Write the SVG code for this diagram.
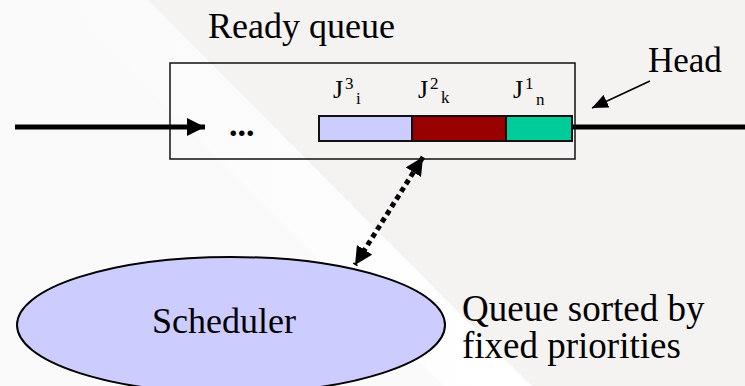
<svg xmlns="http://www.w3.org/2000/svg" width="745" height="386" viewBox="0 0 745 386">
  <style>
    .t { font-family: "Liberation Serif", "Times New Roman", serif; fill: #000; }
    .box { fill: none; stroke: #111; stroke-width: 1.5; }
    .bar { stroke: #111; stroke-width: 2; }
    .thick { stroke: #000; stroke-width: 5; fill: none; }
    .thin { stroke: #000; stroke-width: 1.6; fill: none; }
    .dots { stroke: #000; stroke-width: 5; fill: none; stroke-dasharray: 5 4; }
  </style>
  <defs>
    <marker id="bigHead" markerUnits="userSpaceOnUse" viewBox="0 0 18 18" refX="18" refY="9" markerWidth="18" markerHeight="18" orient="auto-start-reverse">
      <path d="M0,0 L18,9 L0,18 Z" fill="#000"/>
    </marker>
    <marker id="smallHead" markerUnits="userSpaceOnUse" viewBox="0 0 16 14" refX="16" refY="7" markerWidth="16" markerHeight="14" orient="auto">
      <path d="M0,0 L16,7 L0,14 Z" fill="#000"/>
    </marker>
    <linearGradient id="band" x1="0" y1="0" x2="1" y2="0">
      <stop offset="0" stop-color="#fafafa"/>
      <stop offset="1" stop-color="#ffffff"/>
    </linearGradient>
  </defs>

  <g id="background">
    <rect x="0" y="0" width="745" height="386" fill="#fafafa"/>
    <polygon points="60,0 148,0 532,386 444,386" fill="url(#band)"/>
    <polygon points="148,0 745,0 745,386 532,386" fill="#f5f2f2"/>
  </g>

  <g id="connectors">
    <line class="thick" x1="15" y1="127" x2="205" y2="127" marker-end="url(#bigHead)"/>
    <line class="thick" x1="572" y1="127" x2="745" y2="127"/>
    <line class="thin" x1="650" y1="81" x2="592" y2="108" marker-end="url(#smallHead)"/>
    <line class="dots" x1="423" y1="157" x2="355" y2="265" marker-start="url(#bigHead)" marker-end="url(#bigHead)"/>
  </g>

  <g id="ready-queue">
    <rect class="box" x="170" y="63" width="405" height="96"/>
    <rect class="bar" x="319" y="116" width="93" height="25" fill="#ccccff"/>
    <rect class="bar" x="412" y="116" width="94" height="25" fill="#990000"/>
    <rect class="bar" x="506" y="116" width="66" height="25" fill="#00cc99"/>
    <text class="t" x="229" y="136" font-size="34" font-weight="bold">...</text>
    <text class="t" font-size="26"><tspan x="333" y="98">J</tspan><tspan x="345" y="89" font-size="17">3</tspan><tspan x="356" y="104" font-size="17">i</tspan></text>
    <text class="t" font-size="26"><tspan x="418" y="98">J</tspan><tspan x="430" y="89" font-size="17">2</tspan><tspan x="441" y="103" font-size="17">k</tspan></text>
    <text class="t" font-size="26"><tspan x="513" y="98">J</tspan><tspan x="525" y="89" font-size="17">1</tspan><tspan x="536" y="105" font-size="17">n</tspan></text>
  </g>
  <g id="ready-queue-label">
    <text class="t" x="208" y="38" font-size="36">Ready queue</text>
  </g>

  <g id="head-label">
    <text class="t" x="648" y="72" font-size="35">Head</text>
  </g>

  <g id="scheduler">
    <ellipse cx="231" cy="325" rx="214" ry="68" fill="#ccccff" stroke="#000" stroke-width="2"/>
    <text class="t" x="152" y="333" font-size="36">Scheduler</text>
  </g>

  <g id="note">
    <text class="t" font-size="37"><tspan x="462" y="321">Queue sorted by</tspan><tspan x="462" y="358">fixed priorities</tspan></text>
  </g>
</svg>
